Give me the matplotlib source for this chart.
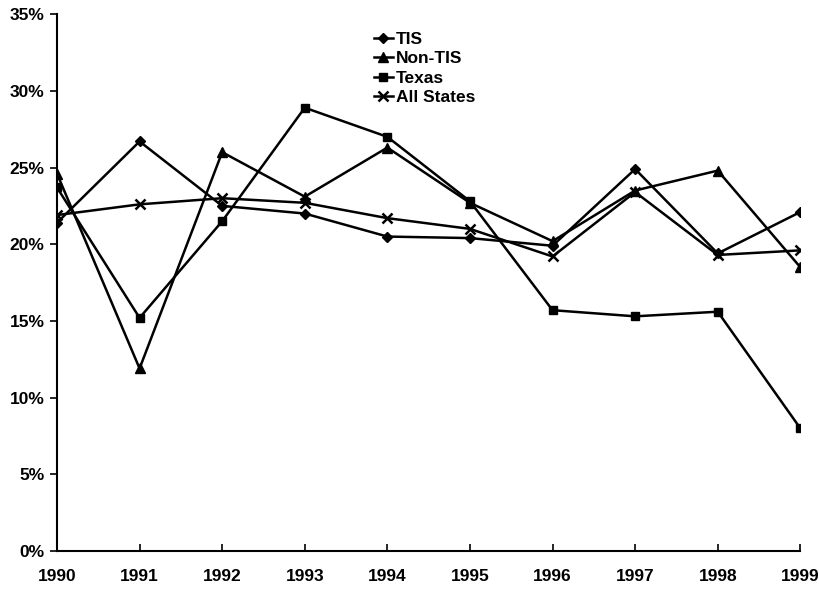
import numpy as np
import matplotlib
matplotlib.use('Agg')
import matplotlib.pyplot as plt
from matplotlib.ticker import FuncFormatter

plt.rcParams['font.family'] = ['Liberation Sans', 'DejaVu Sans']
plt.rcParams['font.weight'] = 'bold'

years = [1990, 1991, 1992, 1993, 1994, 1995, 1996, 1997, 1998, 1999]
tis = [21.4, 26.7, 22.5, 22.0, 20.5, 20.4, 19.9, 24.9, 19.4, 22.1]
non_tis = [24.6, 11.9, 26.0, 23.1, 26.3, 22.7, 20.2, 23.5, 24.8, 18.5]
texas = [23.7, 15.2, 21.5, 28.9, 27.0, 22.8, 15.7, 15.3, 15.6, 8.0]
all_states = [21.9, 22.6, 23.0, 22.7, 21.7, 21.0, 19.2, 23.4, 19.3, 19.6]

fig = plt.figure(figsize=(8.2, 5.89), dpi=100)
ax = fig.add_axes([0.0695, 0.0645, 0.9065, 0.9115])

ax.plot(years, tis, color='black', lw=1.8, marker='D', ms=5, label='TIS')
ax.plot(years, non_tis, color='black', lw=1.8, marker='^', ms=7, label='Non-TIS')
ax.plot(years, texas, color='black', lw=1.8, marker='s', ms=6, label='Texas')
ax.plot(years, all_states, color='black', lw=1.8, marker='x', ms=7, mew=1.8, label='All States')

ax.set_xlim(1990, 1999)
ax.set_ylim(0, 35)
ax.set_xticks(years)
ax.set_yticks(np.arange(0, 36, 5))
ax.yaxis.set_major_formatter(FuncFormatter(lambda v, p: '%d%%' % v))

for s in ['top', 'right']:
    ax.spines[s].set_visible(False)
ax.spines['left'].set_linewidth(1.5)
ax.spines['bottom'].set_linewidth(1.5)
ax.tick_params(axis='y', direction='out', length=5, width=1.2, labelsize=12.5, pad=4)
ax.tick_params(axis='x', direction='in', length=5, width=1.2, labelsize=12.5, pad=13)

leg = ax.legend(loc='upper left', bbox_to_anchor=(0.41, 0.99), frameon=False,
                fontsize=12.5, handlelength=1.1, handletextpad=0.15,
                labelspacing=0.25, borderaxespad=0.3)

fig.savefig('out.png', dpi=100)
